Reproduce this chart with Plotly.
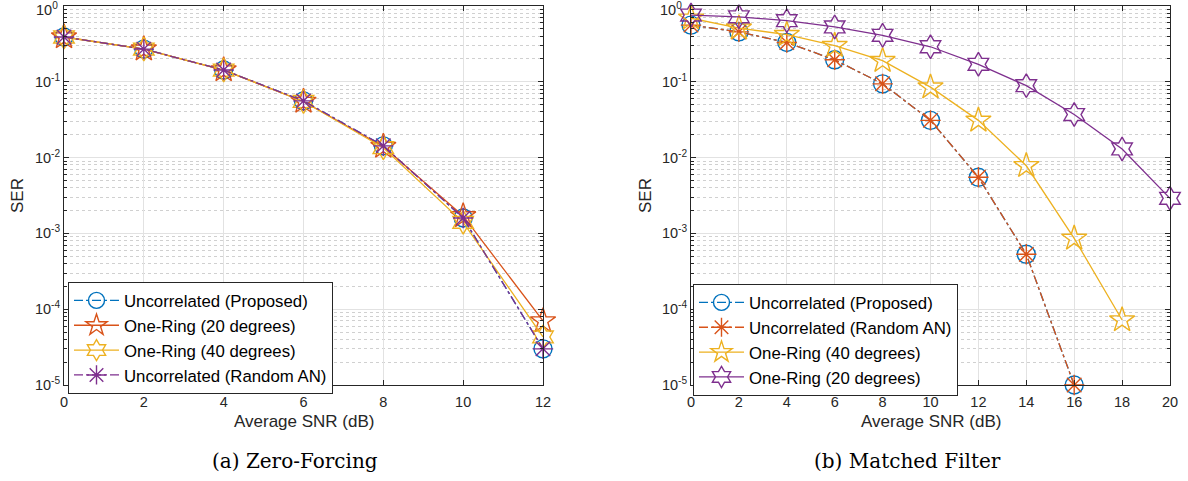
import plotly.graph_objects as go

# ---------------- data ----------------
snr_zf = [0, 2, 4, 6, 8, 10, 12]
zf_proposed = [0.39, 0.27, 0.143, 0.056, 0.0143, 0.0016, 3.0e-5]
zf_ring20 = [0.39, 0.27, 0.143, 0.055, 0.0140, 0.0017, 7.0e-5]
zf_ring40 = [0.39, 0.27, 0.143, 0.055, 0.0135, 0.0014, 4.3e-5]
zf_random = [0.39, 0.27, 0.143, 0.056, 0.0143, 0.0016, 3.0e-5]

snr_mf_a = [0, 2, 4, 6, 8, 10, 12, 14, 16]
snr_mf_40 = [0, 2, 4, 6, 8, 10, 12, 14, 16, 18]
snr_mf_20 = [0, 2, 4, 6, 8, 10, 12, 14, 16, 18, 20]
mf_proposed = [0.56, 0.455, 0.33, 0.195, 0.094, 0.031, 0.0055, 5.3e-4, 1.0e-5]
mf_random = [0.56, 0.455, 0.33, 0.195, 0.094, 0.031, 0.0055, 5.3e-4, 1.0e-5]
mf_ring40 = [0.69, 0.51, 0.42, 0.30, 0.19, 0.085, 0.031, 0.0078, 8.6e-4, 7.2e-5]
mf_ring20 = [0.76, 0.72, 0.64, 0.53, 0.41, 0.29, 0.17, 0.089, 0.037, 0.013, 0.0029]

xticks_zf = [0, 2, 4, 6, 8, 10, 12]
xticks_mf = [0, 2, 4, 6, 8, 10, 12, 14, 16, 18, 20]
yticks = [1e-5, 1e-4, 1e-3, 1e-2, 1e-1, 1e0]
ytick_text = ["10<sup>-5</sup>", "10<sup>-4</sup>", "10<sup>-3</sup>",
              "10<sup>-2</sup>", "10<sup>-1</sup>", ""]
ytop_label = "10<sup>0</sup>"

BLUE = "#0072BD"
ORANGE = "#D95319"
YELLOW = "#EDB120"
PURPLE = "#7E2F8E"
FONT = "Liberation Sans, Arial, sans-serif"
AX = "#262626"

fig = go.Figure()


def add(x, y, name, color, symbol, dash, xa, ya, legend, size=17):
    fig.add_trace(go.Scatter(
        x=x, y=y, name=name, mode="lines+markers",
        line=dict(color=color, width=1.3, dash=dash),
        marker=dict(symbol=symbol, size=size, color=color,
                    line=dict(color=color, width=1.4)),
        xaxis=xa, yaxis=ya, legend=legend, cliponaxis=False,
    ))


# left: Zero-Forcing
add(snr_zf, zf_proposed, "Uncorrelated (Proposed)", BLUE, "circle-open", "dashdot", "x", "y", "legend", 18)
add(snr_zf, zf_ring20, "One-Ring (20 degrees)", ORANGE, "star-open", "solid", "x", "y", "legend", 19)
add(snr_zf, zf_ring40, "One-Ring (40 degrees)", YELLOW, "hexagram-open", "solid", "x", "y", "legend", 18)
add(snr_zf, zf_random, "Uncorrelated (Random AN)", PURPLE, "asterisk-open", "dashdot", "x", "y", "legend", 17)

# right: Matched Filter
add(snr_mf_a, mf_proposed, "Uncorrelated (Proposed)", BLUE, "circle-open", "dashdot", "x2", "y2", "legend2", 18)
add(snr_mf_a, mf_random, "Uncorrelated (Random AN)", ORANGE, "asterisk-open", "dashdot", "x2", "y2", "legend2", 17)
add(snr_mf_40, mf_ring40, "One-Ring (40 degrees)", YELLOW, "star-open", "solid", "x2", "y2", "legend2", 19)
add(snr_mf_20, mf_ring20, "One-Ring (20 degrees)", PURPLE, "hexagram-open", "solid", "x2", "y2", "legend2", 18)

minor_vals = [m * 10 ** e for e in range(-5, 0) for m in range(2, 10)]

W, H = 1188, 481
ydom = [1 - 385 / H, 1 - 6 / H]
xdom1 = [64 / W, 543 / W]
xdom2 = [691 / W, 1170 / W]

axis_common = dict(
    showline=True, linecolor=AX, linewidth=1, mirror="allticks",
    ticks="inside", ticklen=5, tickcolor=AX, automargin=False,
    showgrid=True, gridcolor="#E2E2E2", gridwidth=1, zeroline=False,
    tickfont=dict(family=FONT, size=14.5, color=AX), ticklabeloverflow="allow",
)
title_font = dict(family=FONT, size=17, color=AX)
tick_font = dict(family=FONT, size=14.5, color=AX)

xa1 = dict(axis_common, domain=xdom1, range=[0, 12], tickvals=xticks_zf, anchor="y", ticklabelstandoff=4)
xa2 = dict(axis_common, domain=xdom2, range=[0, 20], tickvals=xticks_mf, anchor="y2", ticklabelstandoff=4)

minor = dict(tickvals=minor_vals, ticks="inside", ticklen=3, tickcolor=AX,
             showgrid=True, gridcolor="#D0D0D0", griddash="dot", gridwidth=1)

ya1 = dict(axis_common, type="log", domain=ydom, range=[-5, 0], tickvals=yticks, ticktext=ytick_text,
           anchor="x", minor=minor)
ya2 = dict(axis_common, type="log", domain=ydom, range=[-5, 0], tickvals=yticks, ticktext=ytick_text,
           anchor="x2", minor=minor)

legend_common = dict(
    bgcolor="white", bordercolor=AX, borderwidth=1,
    font=dict(family=FONT, size=16.8, color="#000000"),
    tracegroupgap=0, itemwidth=45, xanchor="left", yanchor="top",
)

cap_font = dict(family="DejaVu Serif, Liberation Serif, serif", size=20, color="black")


def ann(text, x, y, font, angle=0, xanchor="center"):
    return dict(text=text, x=x / W, y=1 - y / H, xref="paper", yref="paper", showarrow=False,
                xanchor=xanchor, yanchor="middle", font=font, textangle=angle)


fig.update_layout(
    width=W, height=H,
    margin=dict(l=0, r=0, t=0, b=0),
    paper_bgcolor="white", plot_bgcolor="white",
    xaxis=xa1, yaxis=ya1, xaxis2=xa2, yaxis2=ya2,
    legend=dict(legend_common, x=68 / W, y=1 - 282 / H),
    legend2=dict(legend_common, x=693 / W, y=1 - 284 / H),
    annotations=[
        ann(ytop_label, 60, 9, tick_font, xanchor="right"),
        ann(ytop_label, 684, 9, tick_font, xanchor="right"),
        ann("Average SNR (dB)", 304, 421, title_font),
        ann("Average SNR (dB)", 931, 421, title_font),
        ann("SER", 17, 196, title_font, -90),
        ann("SER", 645, 196, title_font, -90),
        ann("(a) Zero-Forcing", 295, 461, cap_font),
        ann("(b) Matched Filter", 907, 461, cap_font),
    ],
)

fig.write_html("out.html", config={"displayModeBar": False},
               post_script="document.body.style.margin='0';document.body.style.overflow='hidden';")
